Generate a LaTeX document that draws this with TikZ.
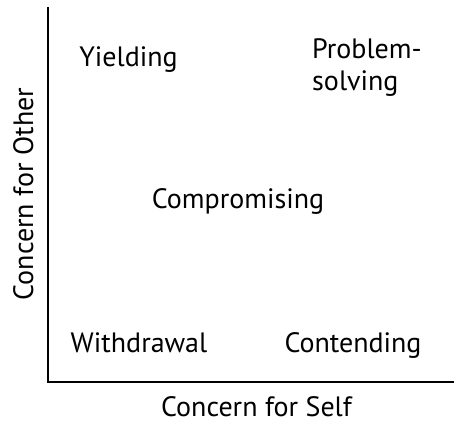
\documentclass[tikz,border=0pt]{standalone}
\usepackage{fontspec}
\setmainfont{PT Sans}
\begin{document}
\begin{tikzpicture}[x=1bp,y=1bp,
  lbl/.style={inner sep=0pt, font=\fontsize{28bp}{32bp}\selectfont},
  axis/.style={line width=1.6bp}]
\useasboundingbox (0,0) rectangle (454,424);
\coordinate (top) at (48,417);
\coordinate (origin) at (48,42);
\coordinate (right) at (454,42);
\draw[axis] (top) -- (origin) -- (right);
\node[lbl, anchor=base] (yield) at (128.5,358) {Yielding};
\node[lbl, anchor=base west, align=left] (prob) at (312,334) {Problem-\\solving};
\node[lbl, anchor=base] (comp) at (238,216) {Compromising};
\node[lbl, anchor=base] (with) at (139,72) {Withdrawal};
\node[lbl, anchor=base] (cont) at (353,72) {Contending};
\node[lbl, anchor=base] (self) at (256.5,8) {Concern for Self};
\node[lbl, anchor=base, rotate=90] (other) at (33,230) {Concern for Other};
\end{tikzpicture}
\end{document}
